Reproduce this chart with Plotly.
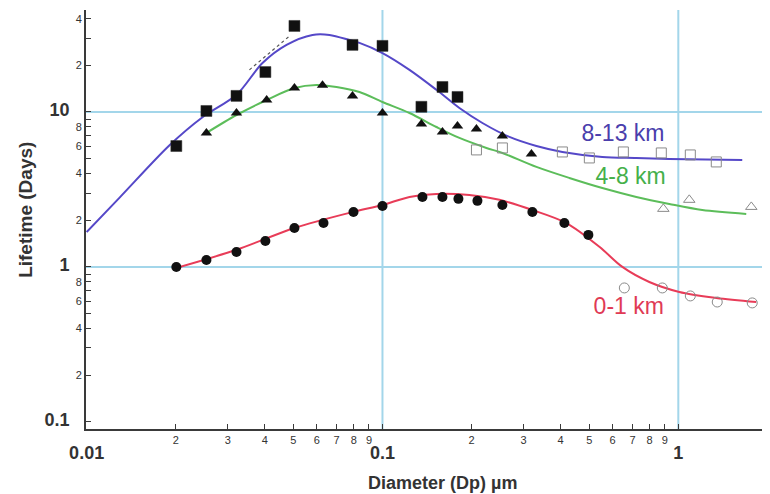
import numpy as np
import plotly.graph_objects as go

# ---------------- data ----------------
# 8-13 km (blue)
sq_fill_x = [0.0201, 0.0254, 0.0321, 0.0402, 0.0504, 0.0792, 0.100, 0.1354, 0.1595, 0.1793]
sq_fill_y = [6.03, 10.15, 12.7, 18.1, 35.9, 27.1, 26.7, 10.8, 14.5, 12.5]
sq_open_x = [0.2078, 0.2543, 0.4056, 0.5004, 0.652, 0.876, 1.098, 1.344]
sq_open_y = [5.69, 5.86, 5.52, 5.05, 5.52, 5.44, 5.28, 4.76]
fit_813_x = [0.01, 0.0129, 0.0191, 0.0247, 0.0321, 0.0393, 0.0474, 0.058, 0.0662, 0.0774,
             0.0836, 0.100, 0.1234, 0.1522, 0.182, 0.2177, 0.2686, 0.3314, 0.4056, 0.5535,
             0.7213, 0.9324, 1.645]
fit_813_y = [1.68, 2.79, 6.12, 9.28, 12.9, 20.7, 27.1, 31.4, 31.4, 29.1,
             27.9, 24.0, 18.7, 13.9, 10.6, 8.49, 6.90, 6.03, 5.52, 5.13,
             5.05, 4.98, 4.90]
dash_x = [0.0355, 0.0485]
dash_y = [18.7, 30.9]

# 4-8 km (green)
tri_fill_x = [0.0254, 0.0321, 0.0406, 0.0504, 0.0627, 0.0792, 0.100, 0.1354, 0.1595, 0.1793,
              0.2078, 0.2543, 0.3188]
tri_fill_y = [7.32, 9.85, 11.95, 14.3, 14.9, 12.7, 9.85, 8.37, 7.43, 8.12,
              7.77, 7.0, 5.36]
tri_open_x = [0.89, 1.089, 1.765]
tri_open_y = [2.37, 2.71, 2.44]
fit_48_x = [0.0254, 0.0321, 0.0406, 0.0504, 0.0598, 0.0699, 0.0836, 0.100, 0.1234, 0.1522,
            0.182, 0.2246, 0.2543, 0.3314, 0.4283, 0.5535, 0.7213, 0.9324, 1.205, 1.697]
fit_48_y = [7.32, 9.56, 11.95, 14.28, 14.94, 14.5, 13.46, 11.6, 9.85, 8.0,
            6.80, 5.86, 5.44, 4.42, 3.75, 3.23, 2.83, 2.55, 2.33, 2.20]

# 0-1 km (red)
circ_fill_x = [0.0201, 0.0254, 0.0321, 0.0402, 0.0504, 0.0632, 0.0798, 0.100, 0.1365, 0.1595,
               0.1806, 0.2094, 0.2543, 0.3212, 0.412, 0.4966]
circ_fill_y = [1.0, 1.11, 1.25, 1.47, 1.785, 1.92, 2.26, 2.47, 2.83, 2.83,
               2.75, 2.67, 2.51, 2.26, 1.92, 1.61]
circ_open_x = [0.657, 0.883, 1.098, 1.354, 1.778]
circ_open_y = [0.732, 0.732, 0.65, 0.594, 0.586]
fit_01_x = [0.0201, 0.0321, 0.0504, 0.0792, 0.100, 0.1234, 0.1522, 0.1967, 0.2485, 0.3212,
            0.4184, 0.541, 0.647, 0.798, 1.008, 1.344, 1.834]
fit_01_y = [0.985, 1.29, 1.785, 2.26, 2.51, 2.83, 2.96, 2.91, 2.71, 2.33,
            1.92, 1.35, 1.0, 0.80, 0.69, 0.631, 0.594]

# series labels
label_text = ["8-13 km", "4-8 km", "0-1 km"]
label_x = [0.650, 0.690, 0.680]
label_y = [7.1, 3.75, 0.544]

# ticks
x_tickvals = [0.01, 0.02, 0.03, 0.04, 0.05, 0.06, 0.07, 0.08, 0.09,
              0.1, 0.2, 0.3, 0.4, 0.5, 0.6, 0.7, 0.8, 0.9, 1, 2]
x_minor_text = ["", "2", "3", "4", "5", "6", "7", "8", "9",
                "", "2", "3", "4", "5", "6", "7", "8", "9", "", "2"]
x_major_text = ["0.01", "", "", "", "", "", "", "", "",
                "0.1", "", "", "", "", "", "", "", "", "1", ""]
y_tickvals = [0.1, 0.2, 0.3, 0.4, 0.5, 0.6, 0.7, 0.8, 0.9,
              1, 2, 3, 4, 5, 6, 7, 8, 9, 10, 20, 30, 40]
y_minor_text = ["", "2", "", "4", "", "6", "", "8", "",
                "", "2", "", "4", "", "6", "", "8", "", "", "2", "", "4"]
y_major_text = ["0.1", "", "", "", "", "", "", "", "",
                "1", "", "", "", "", "", "", "", "", "10", "", "", ""]
grid_x = [0.1, 1]
grid_y = [1, 10]

# ---------------- styles ----------------
FONT = "Liberation Sans, Arial, sans-serif"
BLUE = "#5548c8"
GREEN = "#5cbd5a"
RED = "#e83c58"
BLUE_T = "#4a3eac"
GREEN_T = "#45b04a"
RED_T = "#e03a55"
AX = "#3a3a3a"

def major_x(t):
    return "<br><span style='font-size:18px'><b>%s</b></span>" % t if t else ""

x_ticktext = [(m + major_x(M)) if M else m for m, M in zip(x_minor_text, x_major_text)]
y_ticktext = [("<span style='font-size:18px'><b>%s</b></span>" % M + "\u00a0" * 4) if M else m
              for m, M in zip(y_minor_text, y_major_text)]

fig = go.Figure()

line_kw = dict(mode="lines", line_shape="spline", hoverinfo="skip", showlegend=False)
fig.add_trace(go.Scatter(x=fit_813_x, y=fit_813_y, line=dict(color=BLUE, width=2, smoothing=0.9), **line_kw))
fig.add_trace(go.Scatter(x=fit_48_x, y=fit_48_y, line=dict(color=GREEN, width=2, smoothing=0.9), **line_kw))
fig.add_trace(go.Scatter(x=fit_01_x, y=fit_01_y, line=dict(color=RED, width=2, smoothing=0.9), **line_kw))
fig.add_trace(go.Scatter(x=dash_x, y=dash_y, mode="lines", showlegend=False,
                         line=dict(color="#555555", width=1.2, dash="dot")))

mk = dict(mode="markers", showlegend=False)
fig.add_trace(go.Scatter(x=sq_fill_x, y=sq_fill_y, marker=dict(symbol="square", size=11, color="#111111",
                         line=dict(color="#333", width=0.5)), **mk))
fig.add_trace(go.Scatter(x=sq_open_x, y=sq_open_y, marker=dict(symbol="square-open", size=10, color="#8a8a8a",
                         line=dict(width=1)), **mk))
fig.add_trace(go.Scatter(x=tri_fill_x, y=tri_fill_y, marker=dict(symbol="triangle-up", size=10, color="#111111"), **mk))
fig.add_trace(go.Scatter(x=tri_open_x, y=tri_open_y, marker=dict(symbol="triangle-up-open", size=10, color="#8a8a8a",
                         line=dict(width=1)), **mk))
fig.add_trace(go.Scatter(x=circ_fill_x, y=circ_fill_y, marker=dict(symbol="circle", size=10, color="#111111"), **mk))
fig.add_trace(go.Scatter(x=circ_open_x, y=circ_open_y, marker=dict(symbol="circle-open", size=10, color="#8a8a8a",
                         line=dict(width=1)), **mk))

# series labels as text
for t, x, y, c in zip(label_text, label_x, label_y, [BLUE_T, GREEN_T, RED_T]):
    fig.add_trace(go.Scatter(x=[x], y=[y], mode="text", text=[t], showlegend=False,
                             textfont=dict(family=FONT, size=23, color=c)))

shapes = []
for gx in grid_x:
    shapes.append(dict(type="line", xref="x", yref="paper", x0=gx, x1=gx, y0=0, y1=1,
                       line=dict(color="#a3d6ea", width=2), layer="below"))
for gy in grid_y:
    shapes.append(dict(type="line", xref="paper", yref="y", x0=0, x1=1, y0=gy, y1=gy,
                       line=dict(color="#a3d6ea", width=2), layer="below"))

# the page body has an 8px margin, so the figure is sized/offset to compensate
fig.update_layout(
    width=762, height=486,
    margin=dict(l=78, r=2, t=2, b=65),
    paper_bgcolor="white", plot_bgcolor="white",
    font=dict(family=FONT, color="#222"),
    shapes=shapes,
    xaxis=dict(type="log", range=[np.log10(0.00995), np.log10(2.01)],
               tickvals=x_tickvals, ticktext=x_ticktext, ticks="inside", ticklen=5,
               tickangle=0, automargin=False,
               tickcolor=AX, tickwidth=1, showgrid=False, zeroline=False,
               showline=True, linecolor=AX, linewidth=2,
               tickfont=dict(family=FONT, size=11, color="#333")),
    yaxis=dict(type="log", range=[np.log10(0.09), np.log10(45.5)],
               tickvals=y_tickvals, ticktext=y_ticktext, ticks="inside", ticklen=5,
               automargin=False,
               tickcolor=AX, tickwidth=1, showgrid=False, zeroline=False,
               showline=True, linecolor=AX, linewidth=2, ticklabelstandoff=0,
               tickfont=dict(family=FONT, size=11, color="#333")),
    annotations=[
        dict(text="<b>Lifetime (Days)</b>", xref="paper", yref="paper", x=-0.088, y=0.523,
             textangle=-90, showarrow=False, font=dict(family=FONT, size=19, color="#333"),
             xanchor="center", yanchor="middle"),
        dict(text="<b>Diameter (Dp) µm</b>", xref="paper", yref="paper", x=0.523, y=-0.129,
             showarrow=False, font=dict(family=FONT, size=18, color="#333"),
             xanchor="center", yanchor="middle"),
    ],
)

fig.write_html("out.html")
